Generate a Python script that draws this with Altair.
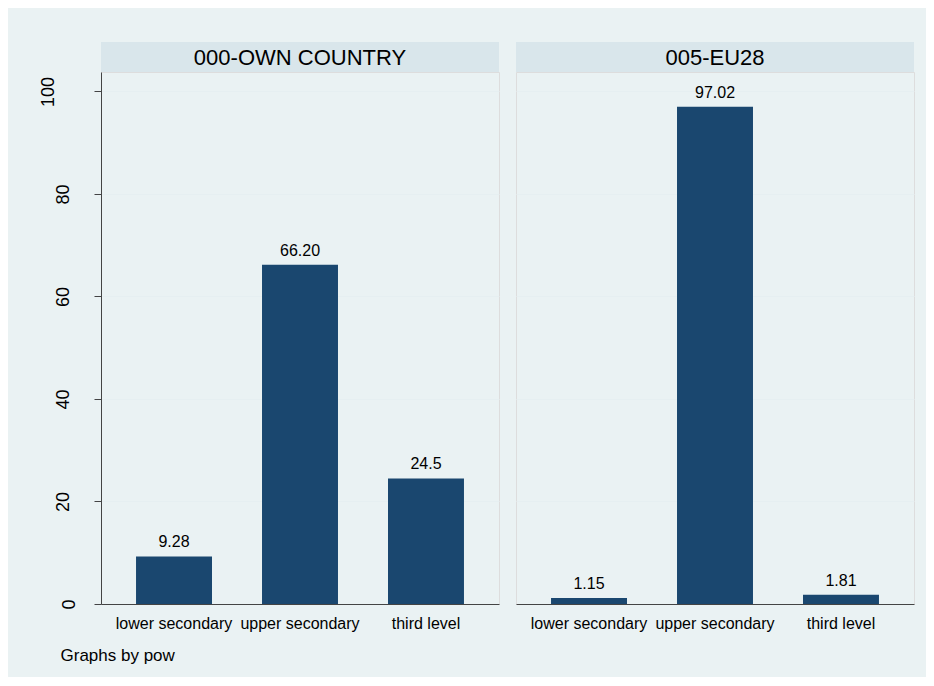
import altair as alt
import pandas as pd

panels = ["000-OWN COUNTRY", "005-EU28"]
categories = ["lower secondary", "upper secondary", "third level"]
own_values = [9.28, 66.20, 24.5]
own_labels = ["9.28", "66.20", "24.5"]
eu_values = [1.15, 97.02, 1.81]
eu_labels = ["1.15", "97.02", "1.81"]
y_ticks = [0, 20, 40, 60, 80, 100]
footnote = "Graphs by pow"

FONT = "Liberation Sans"
NAVY = "#1A476F"
BG = "#EAF2F3"
HEAD = "#D9E6EB"
GRID = "#E6EFF1"
AXIS = "#444444"

PW, PH, HH = 398, 532, 30


def panel(title, values, labels, show_y):
    df = pd.DataFrame({"cat": categories, "val": values, "lab": labels})
    x = alt.X(
        "cat:N",
        sort=categories,
        scale=alt.Scale(paddingInner=0.397, paddingOuter=0.278),
        axis=alt.Axis(
            title=None, labelAngle=0, ticks=False, labelPadding=11,
            labelFontSize=16, labelFont=FONT, labelColor="black",
            domainColor=AXIS, domainWidth=1, grid=False,
        ),
    )
    if show_y:
        yaxis = alt.Axis(
            title=None, values=y_ticks, grid=True, gridColor=GRID, gridWidth=1,
            labelAngle=270, labelAlign="center", labelBaseline="bottom",
            labelFontSize=18, labelFont=FONT, labelColor="black",
            labelPadding={
                "condition": [
                    {"test": "datum.value == 100", "value": 37},
                    {"test": "datum.value == 0", "value": 16},
                ],
                "value": 22,
            },
            tickSize=7, tickColor=AXIS, domainColor=AXIS, domainWidth=1,
        )
    else:
        yaxis = alt.Axis(
            title=None, values=y_ticks, grid=True, gridColor=GRID, gridWidth=1,
            labels=False, ticks=False, domain=False,
        )
    y = alt.Y("val:Q", scale=alt.Scale(domain=[0, 103.8], nice=False, zero=True), axis=yaxis)
    bars = alt.Chart(df).mark_bar(color=NAVY).encode(x=x, y=y)
    text = alt.Chart(df).mark_text(
        baseline="alphabetic", dy=-9, fontSize=16, font=FONT, color="black"
    ).encode(x=x, y=y, text="lab:N")

    head_df = pd.DataFrame({"t": [title]})
    head_bg = alt.Chart(head_df).mark_rect(color=HEAD).encode(
        x=alt.value(0), x2=alt.value(PW), y=alt.value(-HH), y2=alt.value(0)
    )
    head_tx = alt.Chart(head_df).mark_text(
        fontSize=22, font=FONT, baseline="middle", align="center", color="black"
    ).encode(text="t:N", x=alt.value(PW / 2), y=alt.value(-HH / 2 + 1))
    return alt.layer(head_bg, head_tx, bars, text).properties(width=PW, height=PH)


left = panel(panels[0], own_values, own_labels, True)
right = panel(panels[1], eu_values, eu_labels, False)

chart = alt.hconcat(left, right, spacing=17, bounds="flush").properties(
    background=BG,
    padding={"left": 30, "top": 33, "right": 11, "bottom": 13},
    title=alt.TitleParams(
        footnote, orient="bottom", anchor="start", fontSize=17, font=FONT,
        fontWeight="normal", color="black", offset=16, dx=22,
    ),
).configure_view(fill="white", stroke=None).configure(font=FONT)

chart.save("out.html", embed_options={"renderer": "svg", "actions": False})
